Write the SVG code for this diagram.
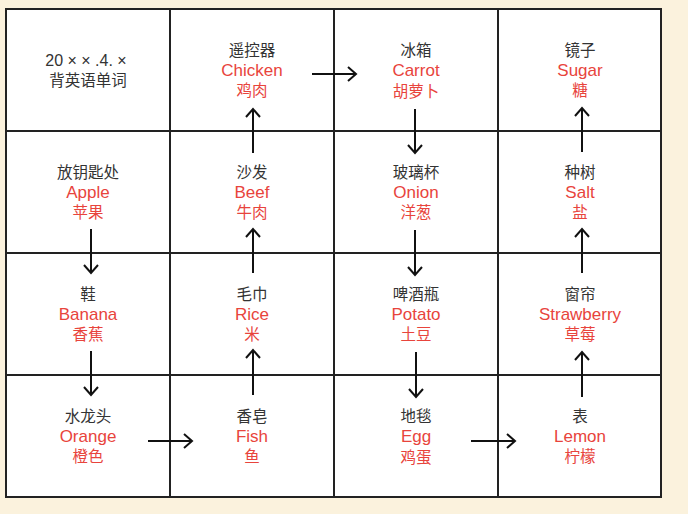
<svg xmlns="http://www.w3.org/2000/svg" width="688" height="514" viewBox="0 0 688 514">
<style>
.k{font-family:"Noto Sans CJK SC","Liberation Sans",sans-serif;font-size:15.5px;fill:#333;text-anchor:middle}
.t{font-family:"Liberation Sans","Noto Sans CJK SC",sans-serif;font-size:16px;fill:#333;text-anchor:middle}
.r{font-family:"Liberation Sans","Noto Sans CJK SC",sans-serif;font-size:17px;fill:#e8443c;text-anchor:middle}
.rc{font-family:"Noto Sans CJK SC","Liberation Sans",sans-serif;font-size:15.5px;fill:#e8443c;text-anchor:middle}
.grid{stroke:#222;stroke-width:2;fill:none}
.a{stroke:#111;stroke-width:2;fill:none;marker-end:url(#h)}
</style>
<defs>
<marker id="h" markerUnits="userSpaceOnUse" markerWidth="20" markerHeight="20" viewBox="-10 -10 20 20" refX="0" refY="0" orient="auto">
<path d="M-8,-7 L0,0 L-8,7" fill="none" stroke="#111" stroke-width="2"/>
</marker>
</defs>
<rect width="688" height="514" fill="#fbf2dd"/>
<rect x="6" y="9" width="655" height="488" fill="#fff"/>
<g id="grid" class="grid">
<rect x="6" y="9" width="655" height="488"/>
<line x1="170" y1="9" x2="170" y2="497"/>
<line x1="334" y1="9" x2="334" y2="497"/>
<line x1="498" y1="9" x2="498" y2="497"/>
<line x1="6" y1="131" x2="661" y2="131"/>
<line x1="6" y1="253" x2="661" y2="253"/>
<line x1="6" y1="375" x2="661" y2="375"/>
</g>
<g id="title"><text class="t" x="86" y="66">20 × × .4. ×</text><text class="k" x="88" y="86">背英语单词</text></g>
<g id="n-chicken"><text class="k" x="252" y="56">遥控器</text><text class="r" x="252" y="76">Chicken</text><text class="rc" x="252" y="96">鸡肉</text></g>
<g id="n-carrot"><text class="k" x="416" y="56">冰箱</text><text class="r" x="416" y="76">Carrot</text><text class="rc" x="416" y="97">胡萝卜</text></g>
<g id="n-sugar"><text class="k" x="580" y="56">镜子</text><text class="r" x="580" y="76">Sugar</text><text class="rc" x="580" y="96">糖</text></g>
<g id="n-apple"><text class="k" x="88" y="178">放钥匙处</text><text class="r" x="88" y="198">Apple</text><text class="rc" x="88" y="218">苹果</text></g>
<g id="n-beef"><text class="k" x="252" y="178">沙发</text><text class="r" x="252" y="198">Beef</text><text class="rc" x="252" y="218">牛肉</text></g>
<g id="n-onion"><text class="k" x="416" y="178">玻璃杯</text><text class="r" x="416" y="198">Onion</text><text class="rc" x="416" y="218">洋葱</text></g>
<g id="n-salt"><text class="k" x="580" y="178">种树</text><text class="r" x="580" y="198">Salt</text><text class="rc" x="580" y="218">盐</text></g>
<g id="n-banana"><text class="k" x="88" y="300">鞋</text><text class="r" x="88" y="320">Banana</text><text class="rc" x="88" y="340">香蕉</text></g>
<g id="n-rice"><text class="k" x="252" y="300">毛巾</text><text class="r" x="252" y="320">Rice</text><text class="rc" x="252" y="340">米</text></g>
<g id="n-potato"><text class="k" x="416" y="300">啤酒瓶</text><text class="r" x="416" y="320">Potato</text><text class="rc" x="416" y="340">土豆</text></g>
<g id="n-strawberry"><text class="k" x="580" y="300">窗帘</text><text class="r" x="580" y="320">Strawberry</text><text class="rc" x="580" y="340">草莓</text></g>
<g id="n-orange"><text class="k" x="88" y="422">水龙头</text><text class="r" x="88" y="442">Orange</text><text class="rc" x="88" y="462">橙色</text></g>
<g id="n-fish"><text class="k" x="252" y="422">香皂</text><text class="r" x="252" y="442">Fish</text><text class="rc" x="252" y="462">鱼</text></g>
<g id="n-egg"><text class="k" x="416" y="422">地毯</text><text class="r" x="416" y="442">Egg</text><text class="rc" x="416" y="463">鸡蛋</text></g>
<g id="n-lemon"><text class="k" x="580" y="422">表</text><text class="r" x="580" y="442">Lemon</text><text class="rc" x="580" y="462">柠檬</text></g>
<g id="connectors">
<line class="a" x1="91" y1="229" x2="91" y2="273"/>
<line class="a" x1="91" y1="351" x2="91" y2="395"/>
<line class="a" x1="148" y1="441" x2="192" y2="441"/>
<line class="a" x1="253" y1="395" x2="253" y2="350"/>
<line class="a" x1="253" y1="273" x2="253" y2="229"/>
<line class="a" x1="253" y1="153" x2="253" y2="109"/>
<line class="a" x1="312" y1="74" x2="356" y2="74"/>
<line class="a" x1="415" y1="109" x2="415" y2="153"/>
<line class="a" x1="415" y1="230" x2="415" y2="275"/>
<line class="a" x1="416" y1="352" x2="416" y2="397"/>
<line class="a" x1="471" y1="441" x2="515" y2="441"/>
<line class="a" x1="582" y1="397" x2="582" y2="352"/>
<line class="a" x1="582" y1="273" x2="582" y2="229"/>
<line class="a" x1="582" y1="152" x2="582" y2="108"/>
</g>
</svg>
